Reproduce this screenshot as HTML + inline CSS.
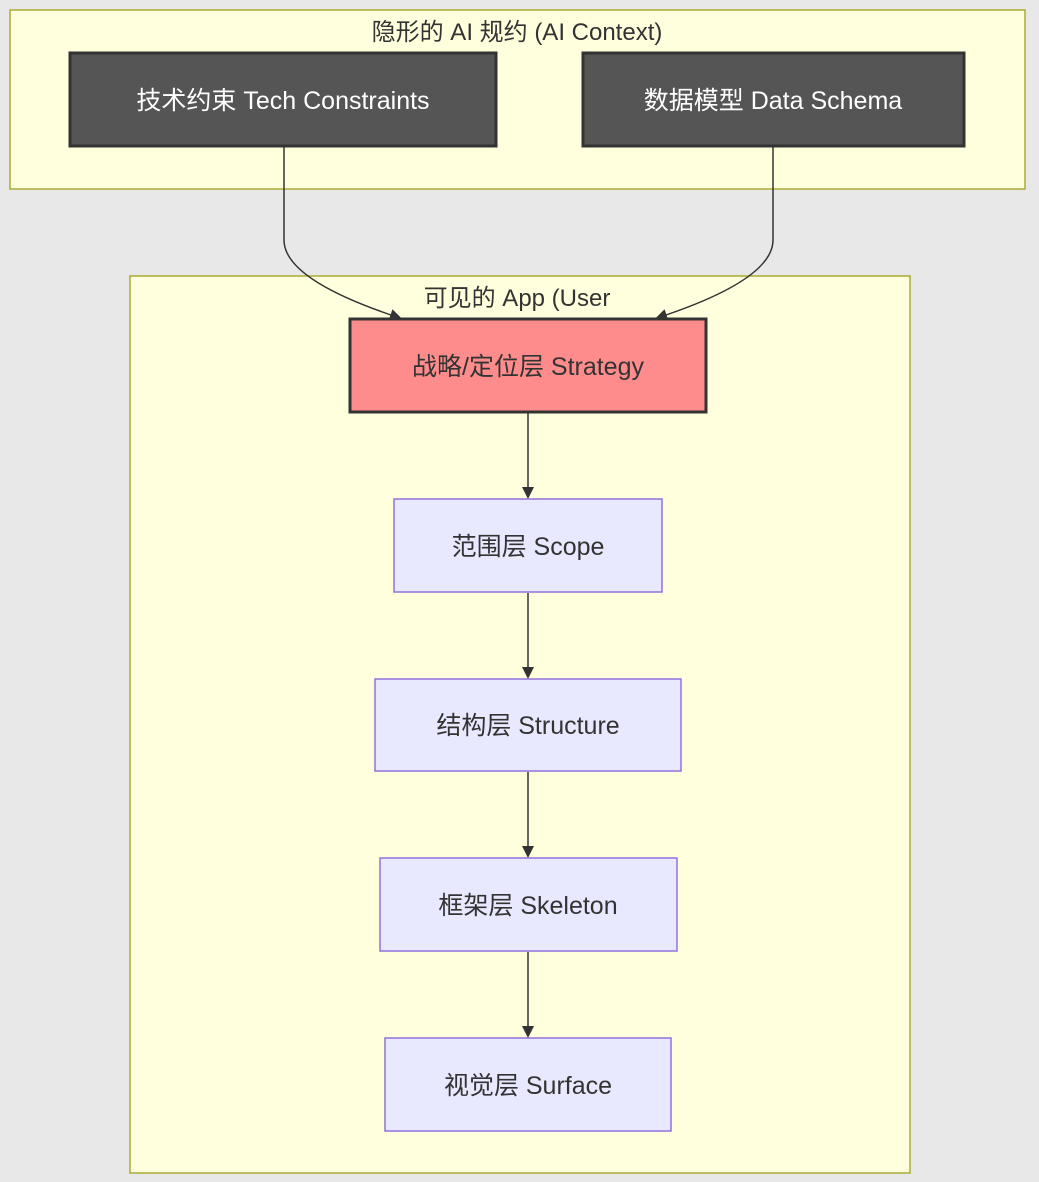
<!DOCTYPE html>
<html><head><meta charset="utf-8"><style>
html,body{margin:0;padding:0;background:#e8e8e8;}
svg{display:block;font-family:"Liberation Sans","Noto Sans CJK SC",sans-serif;}
</style></head><body>
<svg width="1039" height="1182" viewBox="0 0 1039 1182" xmlns="http://www.w3.org/2000/svg">
<defs><marker id="a" markerWidth="12" markerHeight="12" refX="10" refY="6" orient="auto" markerUnits="userSpaceOnUse"><path d="M0,0 L12,6 L0,12 z" fill="#333"/></marker></defs>
<rect x="10" y="10" width="1015" height="179" fill="#ffffde" stroke="#aaaa33" stroke-width="1.5"/>
<text x="517" y="40" font-size="24" text-anchor="middle" fill="#333">隐形的 AI 规约 (AI Context)</text>
<rect x="130" y="276" width="780" height="897" fill="#ffffde" stroke="#aaaa33" stroke-width="1.5"/>
<text x="517" y="306" font-size="24" text-anchor="middle" fill="#333">可见的 App (User</text>
<path d="M284,147 L284,240 Q284,280 400,318" fill="none" stroke="#333" stroke-width="1.5" marker-end="url(#a)"/>
<path d="M773,147 L773,240 Q773,280 657,318" fill="none" stroke="#333" stroke-width="1.5" marker-end="url(#a)"/>
<rect x="70" y="53" width="426" height="93" fill="#555" stroke="#333" stroke-width="3"/>
<text x="283" y="109" font-size="25" text-anchor="middle" fill="#fff">技术约束 Tech Constraints</text>
<rect x="583" y="53" width="381" height="93" fill="#555" stroke="#333" stroke-width="3"/>
<text x="773" y="109" font-size="25" text-anchor="middle" fill="#fff">数据模型 Data Schema</text>
<rect x="350" y="319" width="356" height="93" fill="#ff8c8c" stroke="#333" stroke-width="3"/>
<text x="528" y="375" font-size="25" text-anchor="middle" fill="#333">战略/定位层 Strategy</text>
<g stroke="#333" stroke-width="1.5" fill="none">
<line x1="528" y1="413" x2="528" y2="497" marker-end="url(#a)"/>
<line x1="528" y1="593" x2="528" y2="677" marker-end="url(#a)"/>
<line x1="528" y1="772" x2="528" y2="856" marker-end="url(#a)"/>
<line x1="528" y1="952" x2="528" y2="1036" marker-end="url(#a)"/>
</g>
<g fill="#e8e8ff" stroke="#9370db" stroke-width="1.5">
<rect x="394" y="499" width="268" height="93"/>
<rect x="375" y="679" width="306" height="92"/>
<rect x="380" y="858" width="297" height="93"/>
<rect x="385" y="1038" width="286" height="93"/>
</g>
<g font-size="25" text-anchor="middle" fill="#333">
<text x="528" y="555">范围层 Scope</text>
<text x="528" y="734">结构层 Structure</text>
<text x="528" y="914">框架层 Skeleton</text>
<text x="528" y="1094">视觉层 Surface</text>
</g>
</svg>
</body></html>
